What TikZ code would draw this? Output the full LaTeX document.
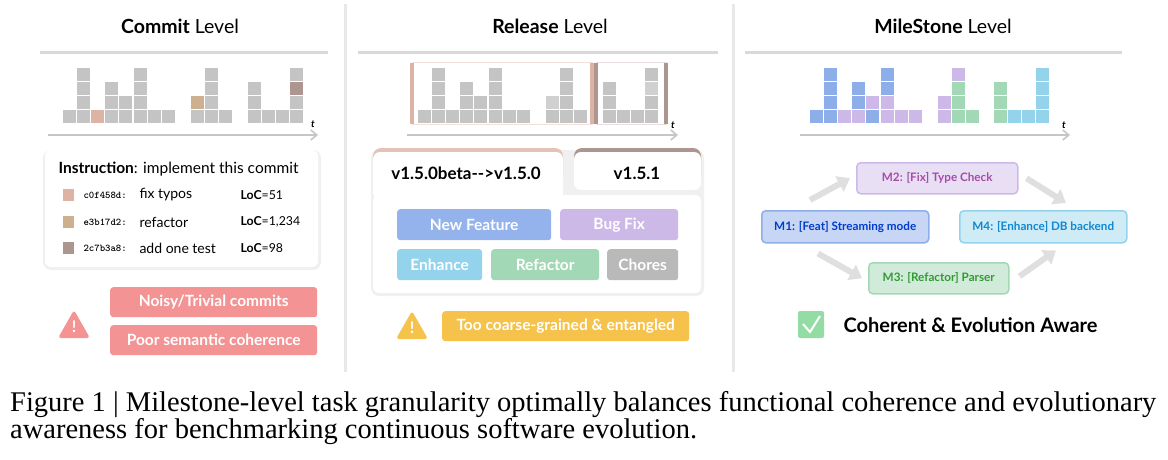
\documentclass[tikz,border=0pt]{standalone}
\usepackage{fontspec}
\setmainfont{Lato}
\newfontfamily\capfont{Liberation Serif}
\usetikzlibrary{arrows.meta,positioning}
\definecolor{gr}{HTML}{C4C4C4}
\definecolor{cpink}{HTML}{DDB3A3}
\definecolor{ctan}{HTML}{CDB08F}
\definecolor{cbrown}{HTML}{AD9690}
\definecolor{cb}{HTML}{8EAEEA}
\definecolor{cv}{HTML}{CDB9E8}
\definecolor{cg}{HTML}{A3D8B6}
\definecolor{cc}{HTML}{94D3EC}
\definecolor{warnred}{HTML}{F39393}
\definecolor{warnyel}{HTML}{F5C24B}
\tikzset{
    title/.style={font=\fontsize{19.5}{22}\selectfont},
    hline/.style={line width=3pt, gray!30},
    axis/.style={-{Straight Barb[length=6pt,width=10pt]}, line width=1.6pt, gray!45},
    tlabel/.style={font=\fontsize{10}{12}\selectfont\bfseries\itshape},
    panel/.style={fill=white, rounded corners=6pt},
    shade/.style={fill=gray!12, rounded corners=8pt},
    tag/.style={rounded corners=3pt, text=white, font=\fontsize{15.5}{18}\selectfont\bfseries,
        inner sep=0pt, anchor=north west},
    ms/.style={rounded corners=4pt, line width=1.5pt, inner sep=0pt, anchor=north west,
        font=\fontsize{11.7}{14}\selectfont\bfseries},
    flow/.style={-{Triangle[length=12pt,width=17pt]}, line width=6pt, gray!25},
}
\newcommand{\blocks}[2]{% x offsets and colours, bottom to top
    \foreach \x/\cl in {#2}
        \foreach \c [count=\r from 0] in \cl
            \fill[\c] (#1+\x,110-14*\r) rectangle ++(13,13);
}
\begin{document}
\begin{tikzpicture}[x=1pt,y=-1pt]
    \useasboundingbox (0,0) rectangle (1168,460);

    % separators
    \fill[gray!18] (344,4) rectangle (347,372);
    \fill[gray!18] (732,4) rectangle (735,372);

    %% Commit level
    \node[title] (ctitle) at (180,26) {\textbf{Commit} Level};
    \draw[hline] (40,53) -- (328,53);
    \blocks{63}{0/{gr}, 14/{gr,gr,gr,gr}, 28/{cpink}, 42/{gr,gr,gr}, 56/{gr,gr},
        71/{gr,gr,gr,gr}, 85/{gr}, 99/{gr}, 128/{gr,ctan}, 142/{gr,gr,gr,gr}, 156/{gr},
        185/{gr,gr,gr}, 199/{gr}, 213/{gr}, 227/{gr,gr,cbrown,gr}}
    \coordinate (ca) at (48,135);
    \coordinate (cb) at (318,135);
    \draw[axis] (ca) -- (cb);
    \node[tlabel] (ct) at (313,124) {t};

    \fill[shade] (43,150) rectangle (321,270);
    \fill[panel] (45,150) rectangle (318,267);
    \node[anchor=west, font=\fontsize{15.5}{18}\selectfont] (instr) at (55,169) {\textbf{Instruction}: implement this commit};
    \foreach \y/\c/\h/\d/\l [count=\i] in {195/cpink/c0f458d:/fix typos/51, 222/ctan/e3b17d2:/refactor/{1,234}, 248/cbrown/2c7b3a8:/add one test/98} {
        \fill[\c] (63,\y-6) rectangle ++(11,12);
        \node[anchor=west, font=\fontsize{10.3}{12}\selectfont\ttfamily\bfseries] (hash\i) at (80,\y) {\h};
        \node[anchor=west, font=\fontsize{14}{16}\selectfont] (desc\i) at (136,\y) {\d};
        \node[anchor=west, font=\fontsize{12.3}{14}\selectfont] (loc\i) at (237,\y) {\textbf{LoC}=\l};
    }

    \fill[warnred, rounded corners=3pt] (58,338) -- (74,310) -- (90,338) -- cycle;
    \node[text=white, font=\fontsize{16}{18}\selectfont\bfseries] (cwarn) at (74,327) {!};
    \node[tag, fill=warnred, minimum width=207pt, minimum height=30pt] (noisy) at (110,287) {Noisy/Trivial commits};
    \node[tag, fill=warnred, minimum width=207pt, minimum height=30pt] (poor) at (110,325) {Poor semantic coherence};

    %% Release level
    \node[title] (rtitle) at (550,26) {\textbf{Release} Level};
    \draw[hline] (358,53) -- (718,53);
    \draw[cpink!40, line width=1pt] (412,63) rectangle (592,124);
    \draw[cpink, line width=4pt] (412,63) -- (412,124) (592,63) -- (592,124);
    \draw[cbrown!30, line width=1pt] (596,63) rectangle (666,124);
    \draw[cbrown, line width=4pt] (596,63) -- (596,124) (666,63) -- (666,124);
    \blocks{418}{0/{gr}, 14/{gr,gr,gr,gr}, 28/{gr}, 42/{gr,gr,gr}, 56/{gr,gr},
        71/{gr,gr,gr,gr}, 85/{gr}, 99/{gr}, 128/{gr,gr!80}, 142/{gr,gr,gr,gr}, 156/{gr},
        185/{gr,gr,gr}, 199/{gr}, 213/{gr}, 227/{gr,gr,gr!80,gr}}
    \coordinate (ra) at (407,135);
    \coordinate (rb) at (678,135);
    \draw[axis] (ra) -- (rb);
    \node[tlabel] (rt) at (673,125) {t};

    \fill[shade] (371,150) rectangle (704,296);
    \fill[cpink!80, rounded corners=8pt] (373,148) rectangle (563,185);
    \fill[cbrown, rounded corners=8pt] (574,148) rectangle (701,185);
    \fill[panel] (373,195) rectangle (701,293);
    \fill[white, rounded corners=7pt] (373,152) rectangle (563,200);
    \fill[white, rounded corners=7pt] (574,152) rectangle (701,190);
    \node[font=\fontsize{17}{20}\selectfont\bfseries] (tab1) at (466,173) {v1.5.0beta-{}->v1.5.0};
    \node[font=\fontsize{17}{20}\selectfont\bfseries] (tab2) at (637,173) {v1.5.1};
    \node[tag, fill=cb!95, minimum width=154pt, minimum height=31pt] (feat) at (397,209) {New Feature};
    \node[tag, fill=cv, minimum width=118pt, minimum height=31pt] (bug) at (560,209) {Bug Fix};
    \node[tag, fill=cc, minimum width=85pt, minimum height=31pt] (enh) at (397,249) {Enhance};
    \node[tag, fill=cg, minimum width=108pt, minimum height=31pt] (refa) at (491,249) {Refactor};
    \node[tag, fill=gray!55, minimum width=71pt, minimum height=31pt] (chor) at (607,249) {Chores};

    \fill[warnyel, rounded corners=3pt] (396,339) -- (412,311) -- (428,339) -- cycle;
    \node[text=white, font=\fontsize{16}{18}\selectfont\bfseries] (rwarn) at (412,328) {!};
    \node[tag, fill=warnyel, minimum width=247pt, minimum height=30pt] (coarse) at (442,311) {Too coarse-grained \& entangled};

    %% MileStone level
    \node[title] (mtitle) at (943,26) {\textbf{MileStone} Level};
    \draw[hline] (745,53) -- (1122,53);
    \blocks{810}{0/{cb}, 14/{cb,cb,cb,cb}, 28/{cv}, 42/{cv,cb,cb}, 56/{cb,cv},
        71/{cv,cv,cb,cb}, 85/{cv}, 99/{cv}, 128/{cv,cv}, 142/{cg,cg,cg,cv}, 156/{cg},
        184/{cg,cg,cg}, 198/{cc}, 212/{cc}, 226/{cc,cc,cc,cc}}
    \coordinate (ma) at (800,135);
    \coordinate (mb) at (1070,135);
    \draw[axis] (ma) -- (mb);
    \node[tlabel] (mt) at (1064,125) {t};

    \node[ms, fill=cv!45, draw=cv, text=violet!70, minimum width=161pt, minimum height=31pt] (m2) at (856,162) {M2: [Fix] Type Check};
    \node[ms, fill=cb!50, draw=cb, text=blue!70!cyan!80!black, minimum width=167pt, minimum height=32pt] (m1) at (761,210) {M1: [Feat] Streaming mode};
    \node[ms, fill=cc!45, draw=cc, text=cyan!70!blue, minimum width=167pt, minimum height=32pt] (m4) at (959,210) {M4: [Enhance] DB backend};
    \node[ms, fill=cg!50, draw=cg, text=green!50!black!80, minimum width=140pt, minimum height=31pt] (m3) at (868,262) {M3: [Refactor] Parser};
    \draw[flow] ([shift={(49,-10)}]m1.north west) -- ([xshift=-6pt]m2.west);
    \draw[flow] ([xshift=8pt]m2.east) -- ([shift={(107,-7)}]m4.north west);
    \draw[flow] ([shift={(57,10)}]m1.south west) -- ([xshift=-6pt]m3.west);
    \draw[flow] ([shift={(10,-2)}]m3.east) -- ([shift={(97,7)}]m4.south west);

    \fill[cg!90!green, rounded corners=2pt] (798,311) rectangle (824,338);
    \draw[white, line width=2pt] (803,324) -- (810,332) -- (820,316);
    \node[anchor=west, font=\fontsize{20}{24}\selectfont\bfseries] (aware) at (840,325) {Coherent \& Evolution Aware};

    %% caption
    \node[anchor=north west, align=left, inner sep=0pt,
        font=\capfont\fontsize{28.5}{27}\selectfont] (cap) at (10,391)
        {Figure 1 | Milestone-level task granularity optimally balances functional coherence and evolutionary\\
         awareness for benchmarking continuous software evolution.};
\end{tikzpicture}
\end{document}
